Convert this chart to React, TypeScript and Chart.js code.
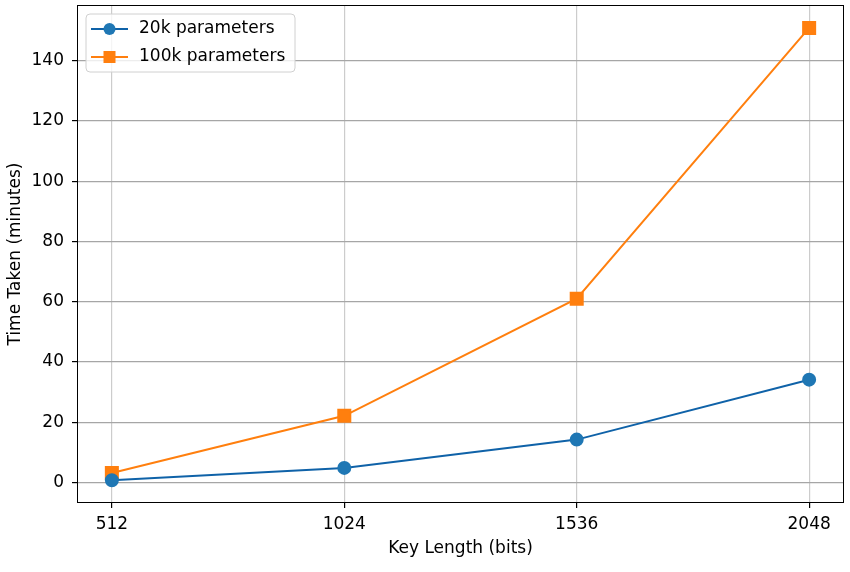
import React, { useEffect, useRef } from "react";
import { Chart, registerables } from "chart.js";

Chart.register(...registerables);

const keyLengths = [512, 1024, 1536, 2048];
const time20k = [0.7, 4.8, 14.2, 34.1];
const time100k = [3.1, 22.1, 61.0, 150.9];
const yTicks = [0, 20, 40, 60, 80, 100, 120, 140];
const seriesNames = ["20k parameters", "100k parameters"];

const BLUE = "#1f77b4";
const BLUE_LINE = "#0f62a8";
const ORANGE = "#ff7f0e";
const FONT = "'DejaVu Sans', sans-serif";
const FS = 17;

const framePlugin = {
  id: "frame",
  afterDraw(chart: any) {
    const { ctx, chartArea } = chart;
    ctx.save();
    ctx.strokeStyle = "#000";
    ctx.lineWidth = 1;
    ctx.strokeRect(
      Math.round(chartArea.left) + 0.5,
      Math.round(chartArea.top) + 0.5,
      Math.round(chartArea.right - chartArea.left) - 1,
      Math.round(chartArea.bottom - chartArea.top) - 1
    );
    // legend
    const x = chartArea.left + 9;
    const y = chartArea.top + 9;
    const w = 209;
    const h = 58;
    const r = 4;
    ctx.beginPath();
    ctx.moveTo(x + r, y);
    ctx.arcTo(x + w, y, x + w, y + h, r);
    ctx.arcTo(x + w, y + h, x, y + h, r);
    ctx.arcTo(x, y + h, x, y, r);
    ctx.arcTo(x, y, x + w, y, r);
    ctx.closePath();
    ctx.fillStyle = "rgba(255,255,255,0.8)";
    ctx.fill();
    ctx.strokeStyle = "#d0d0d0";
    ctx.stroke();
    const items = [
      { label: seriesNames[0], color: BLUE, line: BLUE_LINE, shape: "circle" },
      { label: seriesNames[1], color: ORANGE, line: ORANGE, shape: "square" },
    ];
    items.forEach((it, i) => {
      const cy = y + 15 + i * 28;
      ctx.strokeStyle = it.line;
      ctx.lineWidth = 2;
      ctx.beginPath();
      ctx.moveTo(x + 5, cy);
      ctx.lineTo(x + 42, cy);
      ctx.stroke();
      ctx.fillStyle = it.color;
      if (it.shape === "circle") {
        ctx.beginPath();
        ctx.arc(x + 23.5, cy, 6, 0, Math.PI * 2);
        ctx.fill();
      } else {
        ctx.fillRect(x + 17.5, cy - 6, 12, 12);
      }
      ctx.fillStyle = "#000";
      ctx.font = `${FS}px ${FONT}`;
      ctx.textBaseline = "middle";
      ctx.textAlign = "left";
      ctx.fillText(it.label, x + 53, cy);
    });
    ctx.restore();
  },
};

export default function App() {
  const ref = useRef<HTMLCanvasElement>(null);
  useEffect(() => {
    if (!ref.current) return;
    const chart = new Chart(ref.current, {
      type: "line",
      data: {
        datasets: [
          {
            label: seriesNames[0],
            data: keyLengths.map((k, i) => ({ x: k, y: time20k[i] })),
            borderColor: BLUE_LINE,
            backgroundColor: BLUE,
            pointBackgroundColor: BLUE,
            pointBorderColor: BLUE,
            pointStyle: "circle",
            pointRadius: 6,
            borderWidth: 2,
          },
          {
            label: seriesNames[1],
            data: keyLengths.map((k, i) => ({ x: k, y: time100k[i] })),
            borderColor: ORANGE,
            backgroundColor: ORANGE,
            pointBackgroundColor: ORANGE,
            pointBorderColor: ORANGE,
            pointStyle: "rect",
            pointRadius: 8.5,
            borderWidth: 2,
          },
        ],
      },
      options: {
        responsive: false,
        animation: false,
        layout: { autoPadding: false, padding: { top: 5, right: 6, left: 0, bottom: 0 } },
        plugins: { legend: { display: false }, tooltip: { enabled: false } },
        scales: {
          x: {
            type: "linear",
            min: 435.2,
            max: 2124.8,
            afterBuildTicks: (s: any) => {
              s.ticks = keyLengths.map((v) => ({ value: v }));
            },
            afterFit: (s: any) => {
              s.height = 69;
              s.paddingLeft = 0;
              s.paddingRight = 0;
            },
            grid: {
              color: "#cccccc",
              lineWidth: 1.2,
              drawTicks: true,
              tickLength: 5,
              tickColor: "#000",
            },
            border: { display: false },
            ticks: {
              color: "#000",
              font: { family: FONT, size: FS },
              padding: 6,
              maxRotation: 0,
              callback: (v: any) => String(v),
            },
            title: {
              display: true,
              text: "Key Length (bits)",
              color: "#000",
              font: { family: FONT, size: FS },
              padding: { top: 0, bottom: 13 },
            },
          },
          y: {
            type: "linear",
            min: -6.85,
            max: 158.5,
            afterBuildTicks: (s: any) => {
              s.ticks = yTicks.map((v) => ({ value: v }));
            },
            afterFit: (s: any) => {
              s.width = 77;
              s.paddingTop = 0;
              s.paddingBottom = 0;
            },
            grid: {
              color: "#a6a6a6",
              lineWidth: 1.2,
              drawTicks: true,
              tickLength: 5,
              tickColor: "#000",
            },
            border: { display: false },
            ticks: {
              color: "#000",
              font: { family: FONT, size: FS },
              padding: 8,
              callback: (v: any) => String(v),
            },
            title: {
              display: true,
              text: "Time Taken (minutes)",
              color: "#000",
              font: { family: FONT, size: FS },
              padding: { top: 5, bottom: 0 },
            },
          },
        },
      },
      plugins: [framePlugin],
    } as any);
    return () => chart.destroy();
  }, []);
  return (
    <div style={{ position: "fixed", left: 0, top: 0, width: 850, height: 572, background: "#fff" }}>
      <canvas ref={ref} width={850} height={572} style={{ width: 850, height: 572 }} />
    </div>
  );
}
